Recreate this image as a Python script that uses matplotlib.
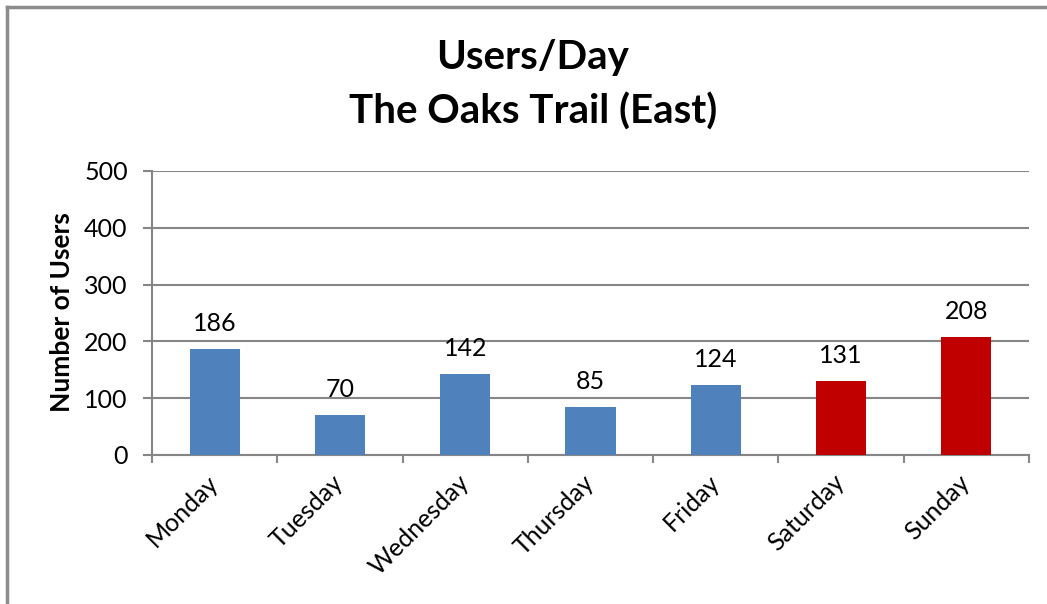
import matplotlib
matplotlib.use("Agg")
import matplotlib.pyplot as plt
from matplotlib.lines import Line2D
import numpy as np

# Data
days = ["Monday", "Tuesday", "Wednesday", "Thursday", "Friday", "Saturday", "Sunday"]
users = [186, 70, 142, 85, 124, 131, 208]
colors = ["#4F81BD"] * 5 + ["#C00000"] * 2

plt.rcParams["font.family"] = ["Lato", "DejaVu Sans"]

fig = plt.figure(figsize=(10.47, 6.04), dpi=100)
ax = fig.add_axes([152 / 1047, 1 - 455 / 604, (1029 - 152) / 1047, (455 - 171) / 604])

x = np.arange(len(days))
ax.bar(x, users, width=0.4, color=colors, zorder=3)

# value labels above bars
for xi, v in zip(x, users):
    ax.annotate(str(v), (xi, v), xytext=(0, 13), textcoords="offset points",
                ha="center", va="baseline", fontsize=18, zorder=4)

ax.set_xlim(-0.5, len(days) - 0.5)
ax.set_ylim(0, 500)
ax.set_yticks(range(0, 501, 100))
ax.set_xticks(np.arange(-0.5, len(days), 1))
ax.set_xticklabels([])
ax.set_xticks(x, minor=True)
ax.set_xticklabels(days, minor=True, rotation=45, ha="right", va="center",
                   rotation_mode="anchor", fontsize=18)
ax.tick_params(axis="x", which="minor", length=0, pad=17)
ax.tick_params(axis="x", which="major", length=6, width=1.5, color="#868686")
ax.tick_params(axis="y", length=6.5, width=1.5, color="#868686", labelsize=18, pad=11)

ax.grid(axis="y", color="#868686", linewidth=1.5, zorder=0)
for s in ["top", "right"]:
    ax.spines[s].set_visible(False)
for s in ["left", "bottom"]:
    ax.spines[s].set_color("#868686")
    ax.spines[s].set_linewidth(1.5)

fig.text(62 / 1047, 1 - 312 / 604, "Number of Users", rotation=90, ha="center",
         va="center", fontsize=19, fontweight="bold")

# title, two lines, centred a bit right of the figure middle
fig.text(533 / 1047, 1 - 57 / 604, "Users/Day", ha="center", va="center",
         fontsize=29, fontweight="bold")
fig.text(533 / 1047, 1 - 112 / 604, "The Oaks Trail (East)", ha="center", va="center",
         fontsize=29, fontweight="bold")

# outer chart border (top and left visible)
fig.add_artist(Line2D([6.5 / 1047, 1], [1 - 6.5 / 604, 1 - 6.5 / 604],
                      transform=fig.transFigure, color="#8c8c8c", linewidth=2.5))
fig.add_artist(Line2D([6.5 / 1047, 6.5 / 1047], [0, 1 - 6.5 / 604],
                      transform=fig.transFigure, color="#8c8c8c", linewidth=2.5))

fig.savefig("out.png", dpi=100)
